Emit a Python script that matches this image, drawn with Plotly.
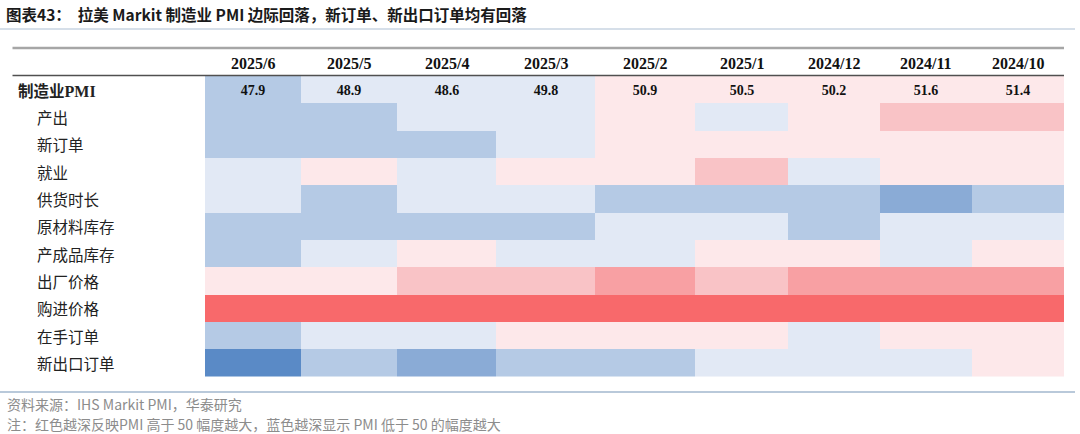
import plotly.graph_objects as go

# ---------------- data ----------------
columns = ["2025/6", "2025/5", "2025/4", "2025/3", "2025/2", "2025/1", "2024/12", "2024/11", "2024/10"]
row_labels = ["制造业PMI", "产出", "新订单", "就业", "供货时长", "原材料库存",
              "产成品库存", "出厂价格", "购进价格", "在手订单", "新出口订单"]

pmi = [47.9, 48.9, 48.6, 49.8, 50.9, 50.5, 50.2, 51.6, 51.4]
output = [47.6, 48.1, 49.0, 49.6, 50.6, 49.5, 51.0, 53.0, 52.6]
new_orders = [47.2, 47.9, 48.2, 49.3, 50.4, 50.7, 51.2, 51.5, 51.3]
employment = [49.1, 50.3, 49.4, 50.5, 50.6, 52.3, 49.7, 50.8, 50.9]
delivery_times = [48.7, 47.9, 49.0, 49.2, 47.7, 48.0, 47.6, 46.4, 47.8]
raw_inventory = [47.5, 47.8, 47.9, 48.1, 48.8, 49.0, 48.0, 48.9, 49.2]
finished_inventory = [48.0, 49.1, 50.2, 49.3, 49.0, 50.4, 50.3, 49.5, 50.2]
output_prices = [51.4, 51.7, 52.6, 53.0, 54.3, 53.2, 54.1, 54.5, 54.2]
input_prices = [58.0, 58.9, 59.4, 59.0, 59.6, 58.6, 58.8, 59.3, 58.7]
backlogs = [48.2, 49.0, 49.3, 50.4, 50.2, 50.6, 49.6, 50.3, 50.5]
new_export_orders = [44.8, 47.6, 46.3, 47.5, 47.9, 48.9, 49.2, 49.4, 50.3]

series = [pmi, output, new_orders, employment, delivery_times, raw_inventory,
          finished_inventory, output_prices, input_prices, backlogs, new_export_orders]

title_text = "图表43：  拉美 Markit 制造业 PMI 边际回落，新订单、新出口订单均有回落"
source_text = "资料来源：IHS Markit PMI，华泰研究"
note_text = "注：红色越深反映PMI 高于 50 幅度越大，蓝色越深显示 PMI 低于 50 的幅度越大"

# ---------------- style ----------------
W, H = 1080, 434
COL_WIDTHS = [96, 96, 99, 99, 100, 93, 92, 92, 92]
TABLE_LEFT, TABLE_RIGHT = 205, 1064
TABLE_TOP, TABLE_BOTTOM = 76, 376.5
HEADER_Y = 63.5

ZMIN, ZMAX = 42, 60
bins = [45, 47, 48.5, 50, 52, 54, 56]
bin_colors = ["#5A8AC6", "#8AABD6", "#B5CAE5", "#E2E9F5",
              "#FDE8EA", "#F9C3C6", "#F8A0A3", "#F8696B"]

CJK = "Noto Sans CJK SC"
SERIF = "Liberation Serif"


def px_x(v):
    return v / W


def px_y(v):
    return 1 - v / H


# stepped colorscale
stops = [0.0] + [(b - ZMIN) / (ZMAX - ZMIN) for b in bins] + [1.0]
colorscale = []
for i, c in enumerate(bin_colors):
    colorscale.append([stops[i], c])
    colorscale.append([stops[i + 1], c])

# column edges from widths
edges = [0]
for w in COL_WIDTHS:
    edges.append(edges[-1] + w)
centers = [(edges[i] + edges[i + 1]) / 2 for i in range(len(COL_WIDTHS))]

rows_idx = list(range(len(row_labels)))
text = [[f"{v:.1f}" for v in pmi]] + [["" for _ in columns] for _ in row_labels[1:]]

fig = go.Figure()
fig.add_trace(go.Heatmap(
    z=series,
    x=edges,
    y=rows_idx,
    text=text,
    texttemplate="<b>%{text}</b>",
    textfont=dict(family=SERIF, size=14, color="#111111"),
    colorscale=colorscale,
    zmin=ZMIN, zmax=ZMAX,
    showscale=False,
    xgap=0, ygap=0,
    hoverinfo="skip",
))

annotations = []
# title
annotations.append(dict(
    x=px_x(4), y=px_y(14), xref="paper", yref="paper",
    xanchor="left", yanchor="middle", showarrow=False,
    text="<b>" + title_text + "</b>",
    font=dict(family=CJK, size=15.5, color="#1a1a1a"),
))
# column headers
for c, cx in zip(columns, centers):
    annotations.append(dict(
        x=cx, y=px_y(HEADER_Y), xref="x", yref="paper",
        xanchor="center", yanchor="middle", showarrow=False,
        text="<b>" + c + "</b>",
        font=dict(family=SERIF, size=16, color="#111111"),
    ))
# row labels
for i, lab in enumerate(row_labels):
    if i == 0:
        txt = "<b>制造业<span style='font-family:Liberation Serif;font-size:16px'>PMI</span></b>"
        xpos = 16
    else:
        txt = lab
        xpos = 35
    annotations.append(dict(
        x=px_x(xpos), y=i, xref="paper", yref="y",
        xanchor="left", yanchor="middle", showarrow=False,
        text=txt,
        font=dict(family=CJK, size=15.5, color="#222222"),
    ))
# footer
annotations.append(dict(
    x=px_x(5), y=px_y(403.5), xref="paper", yref="paper",
    xanchor="left", yanchor="middle", showarrow=False,
    text=source_text, font=dict(family=CJK, size=14, color="#8C8C8C"),
))
annotations.append(dict(
    x=px_x(5), y=px_y(424), xref="paper", yref="paper",
    xanchor="left", yanchor="middle", showarrow=False,
    text=note_text, font=dict(family=CJK, size=14, color="#8C8C8C"),
))

shapes = [
    dict(type="line", xref="paper", yref="paper", x0=0, x1=px_x(1075),
         y0=px_y(29), y1=px_y(29), line=dict(color="#C9D4E2", width=1.5)),
    dict(type="line", xref="paper", yref="paper", x0=px_x(12.5), x1=px_x(TABLE_RIGHT),
         y0=px_y(48), y1=px_y(48), line=dict(color="#A6A6A6", width=2.5)),
    dict(type="line", xref="paper", yref="paper", x0=px_x(12.5), x1=px_x(TABLE_RIGHT),
         y0=px_y(TABLE_TOP - 0.5), y1=px_y(TABLE_TOP - 0.5), line=dict(color="#505050", width=1.5)),
    dict(type="line", xref="paper", yref="paper", x0=0, x1=px_x(1075),
         y0=px_y(392), y1=px_y(392), line=dict(color="#B9C9DA", width=2)),
]

fig.update_layout(
    width=W, height=H,
    margin=dict(l=0, r=0, t=0, b=0),
    paper_bgcolor="white", plot_bgcolor="white",
    xaxis=dict(domain=[px_x(TABLE_LEFT), px_x(TABLE_RIGHT)], range=[edges[0], edges[-1]],
               visible=False, fixedrange=True),
    yaxis=dict(domain=[px_y(TABLE_BOTTOM), px_y(TABLE_TOP)],
               range=[len(row_labels) - 0.5, -0.5], visible=False, fixedrange=True),
    annotations=annotations,
    shapes=shapes,
    showlegend=False,
)

fig.write_html(
    "out.html",
    config={"displayModeBar": False},
    post_script="document.body.style.margin='0';document.body.style.overflow='hidden';",
)
